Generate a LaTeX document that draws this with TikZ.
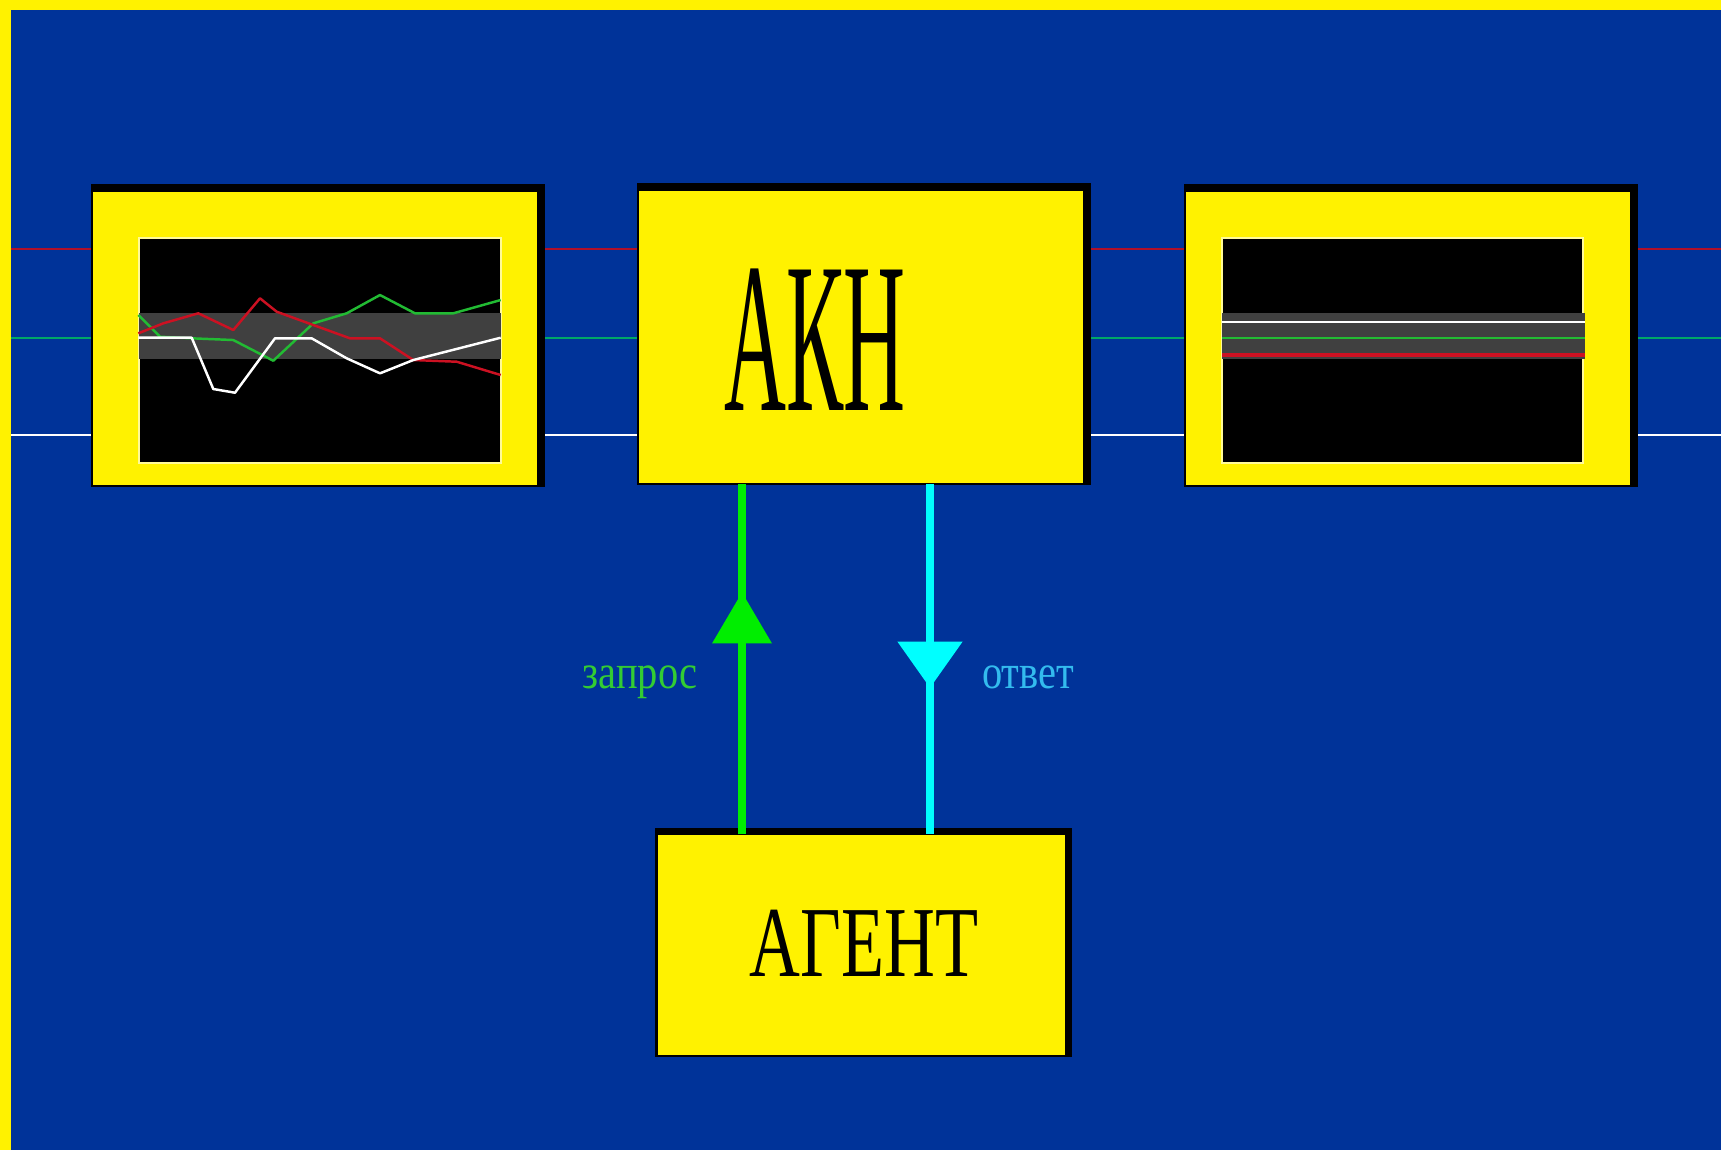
\documentclass[tikz,border=0pt]{standalone}
\usepackage{fontspec}
\setmainfont{Liberation Serif}
\usetikzlibrary{decorations.markings}
\definecolor{bg}{HTML}{003399}
\definecolor{hred}{HTML}{B0102A}
\definecolor{hgreen}{HTML}{00A866}
\definecolor{cgreen}{HTML}{22BB33}
\definecolor{cred}{HTML}{CC1122}
\definecolor{band}{HTML}{404040}
\definecolor{reqcol}{HTML}{00EE00}
\definecolor{anscol}{HTML}{00FFFF}
\definecolor{reqtxt}{HTML}{33CC33}
\definecolor{anstxt}{HTML}{33BBEE}
\tikzset{
  ybox/.style={rectangle, fill=yellow, draw=none, inner sep=0pt},
  screen/.style={rectangle, fill=black, draw=yellow!40!white, line width=0.6pt, inner sep=0pt},
  hline/.style={line width=0.6pt},
  chart/.style={line width=0.7pt, line join=round},
  lbl/.style={inner sep=0pt, font=\fontsize{13.7}{14}\selectfont, xscale=0.84},
  reqline/.style={draw=reqcol, line width=2pt, postaction={decorate}, decoration={markings,
     mark=at position 0.690 with {\fill[reqcol] (0,0) -- (-0.51cm,0.30cm) -- (-0.51cm,-0.30cm) -- cycle;}}},
  ansline/.style={draw=anscol, line width=2pt, postaction={decorate}, decoration={markings,
     mark=at position 0.582 with {\fill[anscol] (0,0) -- (-0.46cm,0.325cm) -- (-0.46cm,-0.325cm) -- cycle;}}}
}
\begin{document}
\begin{tikzpicture}[x=0.01cm,y=-0.01cm]
\useasboundingbox (0,0) rectangle (1721,1150);
\fill[yellow] (0,0) rectangle (1721,1150);
\fill[bg] (11,10) rectangle (1721,1150);
% background signal lines
\coordinate (rl) at (11,249); \coordinate (rr) at (1721,249);
\coordinate (gl) at (11,338); \coordinate (gr) at (1721,338);
\coordinate (wl) at (11,435); \coordinate (wr) at (1721,435);
\draw[hline, hred] (rl) -- (rr);
\draw[hline, hgreen] (gl) -- (gr);
\draw[hline, white] (wl) -- (wr);
% shadows
\fill[black] (91,184) rectangle (545,487);
\fill[black] (637,183) rectangle (1091,485);
\fill[black] (1184,184) rectangle (1638,487);
\fill[black] (655,828) rectangle (1072,1057);
% boxes
\node[ybox, minimum width=4.44cm, minimum height=2.93cm] (L) at (315,338.5) {};
\node[ybox, minimum width=4.44cm, minimum height=2.92cm] (M) at (861,337) {};
\node[ybox, minimum width=4.44cm, minimum height=2.93cm] (R) at (1408,338.5) {};
\node[ybox, minimum width=4.07cm, minimum height=2.20cm] (A) at (861.5,945) {};
% screens
\node[screen, minimum width=3.62cm, minimum height=2.25cm] (LS) at (320,350.5) {};
\node[screen, minimum width=3.61cm, minimum height=2.25cm] (RS) at (1402.5,350.5) {};
\fill[band] (139,313) rectangle (501,359);
\fill[band] (1222,313) rectangle (1585,359);
% left chart
\draw[chart, cgreen] (138.3,315) -- (160,336.7) -- (191.7,338.3) -- (233.3,340) -- (273.3,360.7) -- (313.3,323.3) -- (346.7,313.3) -- (380,295) -- (415,313.3) -- (453.3,313.3) -- (500.7,300);
\draw[chart, cred] (138.3,333.3) -- (163.3,323.3) -- (198.3,313.3) -- (233.3,330) -- (260,298.3) -- (276.7,311.7) -- (313.3,325) -- (350,338.3) -- (380,338.3) -- (413.3,360) -- (456.7,361.7) -- (500.7,375);
\draw[chart, white] (138.3,337.7) -- (191.7,337.7) -- (213.3,389) -- (235,392.7) -- (275,338.3) -- (311.7,338.3) -- (346.7,358.3) -- (380,373.3) -- (413.3,360) -- (500.7,337.7);
% right chart
\draw[chart, white] (1222,322) -- (1585,322);
\draw[chart, cgreen] (1222,338) -- (1585,338);
\draw[line width=1.1pt, cred] (1222,355) -- (1585,355);
% texts
\node[anchor=base, inner sep=0pt, xscale=0.40, font=\fontsize{61}{61}\selectfont] (t1) at (815,410) {АКН};
\node[anchor=base, inner sep=0pt, xscale=0.70, font=\fontsize{28.6}{29}\selectfont] (t2) at (864,976) {АГЕНТ};
% connectors
\coordinate (gx) at (742,0);
\coordinate (cx) at (930,0);
\draw[reqline] (A.north -| gx) -- (M.south -| gx);
\draw[ansline] (M.south -| cx) -- (A.north -| cx);
\node[lbl, text=reqtxt, anchor=base] (q) at (640,688) {запрос};
\node[lbl, text=anstxt, anchor=base] (o) at (1028,688) {ответ};
\end{tikzpicture}
\end{document}
